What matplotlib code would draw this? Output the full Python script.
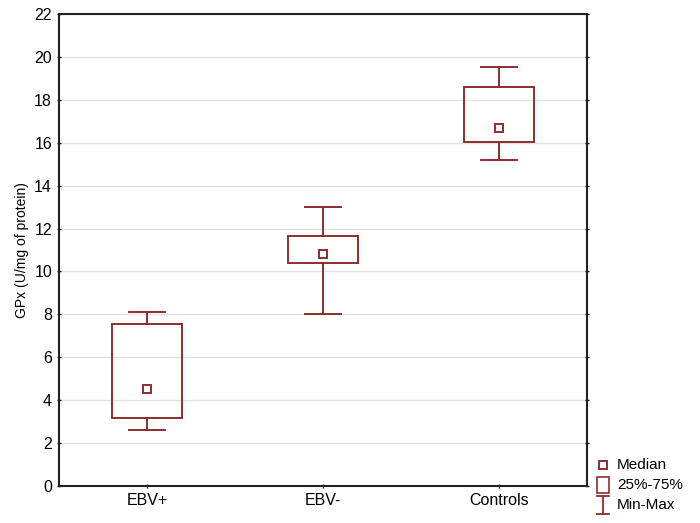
import matplotlib
matplotlib.use('Agg')
import matplotlib.pyplot as plt
from matplotlib.lines import Line2D
from matplotlib.patches import Rectangle

plt.rcParams['font.family'] = ['Liberation Sans', 'DejaVu Sans']

# data
groups = ['EBV+', 'EBV-', 'Controls']
mins = [2.6, 8.0, 15.2]
q1 = [3.15, 10.4, 16.05]
medians = [4.5, 10.8, 16.7]
q3 = [7.55, 11.65, 18.6]
maxs = [8.1, 13.0, 19.55]

color = '#8b2e2e'
W, H = 700, 523

fig = plt.figure(figsize=(7, 5.23), dpi=100)
ax = fig.add_axes([0.0843, 0.0707, 0.7543, 0.9025])

box_w = 0.4
cap_w = 0.2
for i in range(len(groups)):
    ax.add_patch(Rectangle((i - box_w / 2, q1[i]), box_w, q3[i] - q1[i],
                           fill=False, edgecolor=color, lw=1.4, zorder=3))
    ax.plot([i, i], [mins[i], q1[i]], color=color, lw=1.4, zorder=3)
    ax.plot([i, i], [q3[i], maxs[i]], color=color, lw=1.4, zorder=3)
    ax.plot([i - cap_w / 2, i + cap_w / 2], [mins[i], mins[i]], color=color, lw=1.4, zorder=3)
    ax.plot([i - cap_w / 2, i + cap_w / 2], [maxs[i], maxs[i]], color=color, lw=1.4, zorder=3)
ax.plot(range(len(groups)), medians, ls='none', marker='s', ms=5.5,
        mfc='white', mec=color, mew=1.4, zorder=4)

ax.set_xlim(-0.5, 2.5)
ax.set_ylim(0, 22)
ax.set_yticks(range(0, 23, 2))
ax.set_xticks(range(len(groups)))
ax.set_xticklabels(groups)
ax.tick_params(axis='both', labelsize=11.5, length=3, width=1, direction='inout')
ax.tick_params(axis='y', right=True)
ax.grid(axis='y', color='#e2e2e2', lw=1)
ax.set_axisbelow(True)
for s in ax.spines.values():
    s.set_linewidth(1.5)
    s.set_color('#222222')
ax.set_ylabel('GPx (U/mg of protein)', fontsize=10)


# legend drawn by hand outside the axes (pixel positions -> figure fraction)
def fx(px):
    return px / W


def fy(py):
    return 1 - py / H


fig.add_artist(Line2D([fx(603)], [fy(465)], ls='none', marker='s', ms=5.5,
                      mfc='white', mec=color, mew=1.4))
fig.add_artist(Rectangle((fx(597), fy(493)), 12 / W, 16 / H, fill=False,
                         edgecolor=color, lw=1.2))
fig.add_artist(Line2D([fx(603), fx(603)], [fy(496), fy(514)], color=color, lw=1.3))
fig.add_artist(Line2D([fx(597), fx(609)], [fy(496), fy(496)], color=color, lw=1.3))
fig.add_artist(Line2D([fx(597), fx(609)], [fy(514), fy(514)], color=color, lw=1.3))
for label, py in zip(['Median', '25%-75%', 'Min-Max'], [465, 485, 505]):
    fig.text(fx(617), fy(py), label, fontsize=11, va='center', ha='left')

fig.savefig('out.png', dpi=100)
